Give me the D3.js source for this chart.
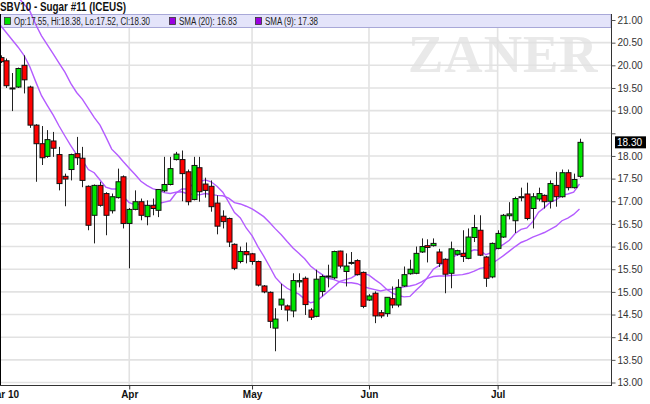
<!DOCTYPE html>
<html><head><meta charset="utf-8">
<script src="https://cdn.jsdelivr.net/npm/d3@7"></script>
<style>body{margin:0;background:#fff}svg{display:block}</style>
</head><body>
<svg id="c" width="650" height="404"></svg>
<script>
// ---- data (bar index = trading day, Mar 2 .. Jul 22, 2010) ----
const opens  = [20.17,20.10,19.50,19.52,20.00,19.52,18.68,18.27,17.99,18.33,18.03,17.55,17.70,18.05,17.95,17.33,16.69,17.35,17.17,16.79,
                17.08,17.54,16.51,16.82,16.99,16.66,16.91,16.80,17.23,17.37,17.92,17.92,17.65,17.04,17.74,17.38,17.33,16.96,16.67,16.62,
                16.05,15.67,15.89,15.84,15.67,15.13,14.99,14.20,14.71,14.69,14.58,15.22,15.30,14.60,14.46,15.01,15.33,15.31,15.90,15.45,
                15.63,15.69,15.43,14.82,14.97,14.54,14.52,14.85,14.71,15.13,15.40,15.41,15.88,16.02,16.02,15.88,15.72,15.41,15.83,15.85,
                15.74,16.20,16.36,15.77,15.33,15.96,16.21,16.68,16.57,17.08,17.16,16.84,17.05,17.13,17.00,17.35,17.10,17.63,17.30,17.55];
const highs  = [20.22,20.15,19.83,19.95,20.22,19.55,18.70,18.66,18.57,18.53,18.20,17.61,18.05,18.42,18.20,17.35,17.37,17.43,17.20,17.17,
                17.72,17.57,16.85,17.24,17.06,17.02,17.06,17.27,17.98,17.98,18.09,18.12,17.70,17.98,17.98,17.52,17.46,17.13,16.80,16.64,
                16.07,16.00,16.09,15.86,15.69,15.15,15.01,14.64,15.18,14.72,15.41,15.41,15.34,14.64,15.49,15.38,15.60,15.91,15.91,15.85,
                15.88,15.72,15.45,14.95,15.01,14.60,14.88,15.12,15.28,15.56,15.71,16.00,16.18,16.16,16.18,15.95,15.74,16.11,15.93,16.36,
                16.40,16.70,16.69,15.79,16.09,16.36,16.72,16.98,17.10,17.30,17.41,17.18,17.30,17.15,17.46,17.65,17.70,17.70,17.61,18.38];
const lows   = [20.05,19.50,18.99,19.50,19.38,18.62,17.43,17.80,17.96,17.98,17.24,16.89,17.46,17.80,17.31,16.36,16.07,16.88,16.25,16.73,
                17.06,16.40,15.52,16.80,16.58,16.47,16.69,16.65,17.20,17.35,17.90,17.00,16.91,17.02,16.99,17.08,16.77,16.27,16.40,15.99,
                15.48,15.63,15.63,15.60,15.12,14.97,14.20,13.69,14.60,14.35,14.44,15.10,14.49,14.38,14.44,14.90,15.10,15.28,15.52,15.12,
                15.60,15.36,14.64,14.80,14.31,14.42,14.45,14.64,14.66,15.11,15.38,15.39,15.86,15.65,16.00,15.55,14.97,15.08,15.80,15.66,
                15.72,16.10,15.79,15.11,15.30,15.94,16.19,16.60,16.30,17.00,16.58,16.40,17.00,16.84,16.84,16.88,17.08,17.24,17.28,17.52];
const closes = [20.08,19.55,19.48,19.93,19.68,18.68,18.27,17.96,18.36,18.17,17.39,17.49,18.03,17.96,17.46,16.47,17.35,16.91,16.69,17.10,
                17.43,16.51,16.82,16.99,16.69,16.91,16.84,17.26,17.37,17.72,18.04,17.61,16.99,17.79,17.21,17.24,16.88,16.45,16.55,16.10,
                15.52,15.89,15.82,15.67,15.15,15.00,14.35,14.40,14.84,14.60,15.25,15.25,14.72,14.44,15.28,15.34,15.35,15.89,15.57,15.57,
                15.65,15.38,14.68,14.91,14.47,14.47,14.88,14.71,15.10,15.38,15.50,15.85,16.00,15.98,16.07,15.63,15.39,15.95,15.91,15.78,
                16.21,16.42,15.81,15.30,16.07,16.29,16.69,16.72,17.06,17.10,16.62,17.10,17.17,16.99,17.39,17.10,17.63,17.30,17.48,18.30];
const sma20  = [22.10,21.90,21.70,21.50,21.35,21.20,20.90,20.65,20.45,20.25,20.05,19.85,19.60,19.40,19.25,19.05,18.85,18.68,18.42,18.15,
                18.02,17.87,17.73,17.59,17.44,17.35,17.28,17.24,17.19,17.17,17.20,17.21,17.16,17.15,17.14,17.17,17.15,17.13,17.12,17.07,
                16.97,16.94,16.89,16.83,16.75,16.66,16.53,16.39,16.26,16.11,15.97,15.85,15.73,15.57,15.47,15.38,15.30,15.27,15.22,15.20,
                15.20,15.18,15.12,15.08,15.05,15.02,15.05,15.06,15.08,15.11,15.13,15.16,15.22,15.30,15.34,15.35,15.35,15.36,15.37,15.38,
                15.41,15.46,15.52,15.54,15.62,15.71,15.80,15.90,16.00,16.09,16.14,16.21,16.26,16.31,16.38,16.45,16.57,16.63,16.71,16.83];
const sma9   = [20.88,20.72,20.56,20.40,20.22,19.97,19.64,19.33,19.11,18.90,18.66,18.44,18.23,18.03,17.90,17.70,17.63,17.47,17.31,17.27,
                17.27,17.10,16.97,16.92,16.94,16.89,16.89,16.95,16.98,17.01,17.18,17.27,17.27,17.39,17.43,17.47,17.43,17.33,17.20,16.98,
                16.75,16.63,16.41,16.24,16.00,15.79,15.56,15.32,15.18,15.08,15.01,14.95,14.84,14.76,14.79,14.90,15.01,15.12,15.23,15.27,
                15.31,15.39,15.41,15.37,15.27,15.18,15.06,14.97,14.92,14.89,14.90,15.03,15.15,15.32,15.50,15.58,15.66,15.75,15.81,15.84,
                15.88,15.93,15.91,15.82,15.87,15.97,16.05,16.14,16.29,16.38,16.41,16.55,16.76,16.86,16.98,17.03,17.13,17.16,17.20,17.38];
const monthLabels = ["Mar 10","Apr","May","Jun","Jul"];
const monthStarts = [-1, 22, 43, 63, 85];
const priceTicks = [13,13.5,14,14.5,15,15.5,16,16.5,17,17.5,18,18.5,19,19.5,20,20.5,21];
const title = "SBV10 - Sugar #11 (ICEUS)";
const legendItems = [
  {text:"Op:17.55, Hi:18.38, Lo:17.52, Cl:18.30", color:"#00e000"},
  {text:"SMA (20): 16.83", color:"#9a00e0"},
  {text:"SMA (9): 17.38", color:"#9a00e0"}
];
const lastClose = 18.30;

// ---- layout ----
const L = 0, R = 611, T = 14, B = 385;
const svg = d3.select("#c");
const x = d3.scaleLinear().domain([0, 99]).range([0.6, 579.5]);
const y = d3.scaleLinear().domain([13, 21]).range([382.5, 20]);
const FONT = "Liberation Sans, Arial, sans-serif";

svg.append("rect").attr("width",650).attr("height",404).attr("fill","#fff");

// watermark
svg.append("text").attr("x",408).attr("y",72)
  .attr("font-family","Liberation Serif, Times New Roman, serif").attr("font-weight","bold")
  .attr("font-size",53).attr("fill","#e9e9e9").attr("letter-spacing",1).text("ZANER");

// grid
const g = svg.append("g");
g.selectAll("line.h").data(priceTicks).join("line")
  .attr("x1",L).attr("x2",R).attr("y1",d=>y(d)).attr("y2",d=>y(d))
  .attr("stroke","#e2e2e2").attr("stroke-width",1.6);
g.selectAll("line.v").data(monthStarts).join("line")
  .attr("x1",d=>x(d)).attr("x2",d=>x(d)).attr("y1",T).attr("y2",B)
  .attr("stroke","#e2e2e2").attr("stroke-width",1.6);

// legend band
svg.append("rect").attr("x",0.5).attr("y",T+0.5).attr("width",R-0.5).attr("height",13)
  .attr("fill","#e4e4fa").attr("stroke","#a8a8d8").attr("stroke-width",1);

// SMA lines
const line = d3.line().x((d,i)=>x(i)).y(d=>y(d));
svg.append("path").attr("d",line(sma20)).attr("fill","none").attr("stroke","#b45cff").attr("stroke-width",1.4);
svg.append("path").attr("d",line(sma9)).attr("fill","none").attr("stroke","#b45cff").attr("stroke-width",1.4);

// candles
const idx = d3.range(closes.length);
const cg = svg.append("g");
cg.selectAll("line.w").data(idx).join("line")
  .attr("x1",i=>Math.round(x(i))+0.5).attr("x2",i=>Math.round(x(i))+0.5)
  .attr("y1",i=>y(highs[i])).attr("y2",i=>y(lows[i]))
  .attr("stroke","#222").attr("stroke-width",1);
cg.selectAll("rect.b").data(idx).join("rect")
  .attr("x",i=>Math.round(x(i))-2).attr("width",5)
  .attr("y",i=>y(Math.max(opens[i],closes[i])))
  .attr("height",i=>Math.max(1, Math.abs(y(opens[i])-y(closes[i]))))
  .attr("fill",i=>closes[i]>opens[i]?"#00e600":"#ff0000")
  .attr("stroke","#111").attr("stroke-width",1);

// legend items (square x, text width)
const lx = [4, 169, 255], tw = [136, 58, 53];
legendItems.forEach((d,k)=>{
  svg.append("rect").attr("x",lx[k]+0.5).attr("y",17.5).attr("width",6).attr("height",7)
    .attr("fill",d.color).attr("stroke","#333").attr("stroke-width",0.8);
  svg.append("text").attr("x",lx[k]+10).attr("y",25).attr("font-family",FONT)
    .attr("font-size",10).attr("fill","#222")
    .attr("textLength",tw[k]).attr("lengthAdjust","spacingAndGlyphs").text(d.text);
});

// title
svg.append("text").attr("x",0).attr("y",11).attr("font-family",FONT).attr("font-weight","bold")
  .attr("font-size",12).attr("fill","#111")
  .attr("textLength",126).attr("lengthAdjust","spacingAndGlyphs").text(title);

// frame
svg.append("line").attr("x1",0.5).attr("x2",0.5).attr("y1",T).attr("y2",B).attr("stroke","#000");
svg.append("line").attr("x1",R+0.5).attr("x2",R+0.5).attr("y1",T).attr("y2",B).attr("stroke","#333");
svg.append("line").attr("x1",0).attr("x2",R+1).attr("y1",B+0.5).attr("y2",B+0.5).attr("stroke","#333");

// right axis (label under the last-price tag is hidden, as in the source)
const yAxis = d3.axisRight(y).tickValues(priceTicks).tickSize(4)
  .tickFormat(d => Math.abs(d - lastClose) < 0.3 ? "" : d3.format(".2f")(d));
const ya = svg.append("g").attr("transform",`translate(${R+0.5},0)`).call(yAxis);
ya.select(".domain").remove();
ya.selectAll("line").attr("stroke","#555");
ya.selectAll("text").attr("font-family",FONT).attr("font-size",10).attr("fill","#333").attr("x",6);

// last price tag
svg.append("rect").attr("x",615).attr("y",y(lastClose)-6).attr("width",31).attr("height",12).attr("fill","#000");
svg.append("text").attr("x",617).attr("y",y(lastClose)+4).attr("font-family",FONT).attr("font-size",10)
  .attr("fill","#fff").text(lastClose.toFixed(2));

// bottom axis
const xAxis = d3.axisBottom(x).tickValues(monthStarts).tickSize(4).tickFormat((d,i)=>monthLabels[i]);
const xa = svg.append("g").attr("transform",`translate(0,${B+0.5})`).call(xAxis);
xa.select(".domain").remove();
xa.selectAll("line").attr("stroke","#333");
xa.selectAll("text").attr("font-family",FONT).attr("font-size",10).attr("font-weight","bold")
  .attr("fill","#111").attr("dy","0.5em")
  .attr("dx",(d,i)=> i===0 ? 8 : 0);
</script>
</body></html>
